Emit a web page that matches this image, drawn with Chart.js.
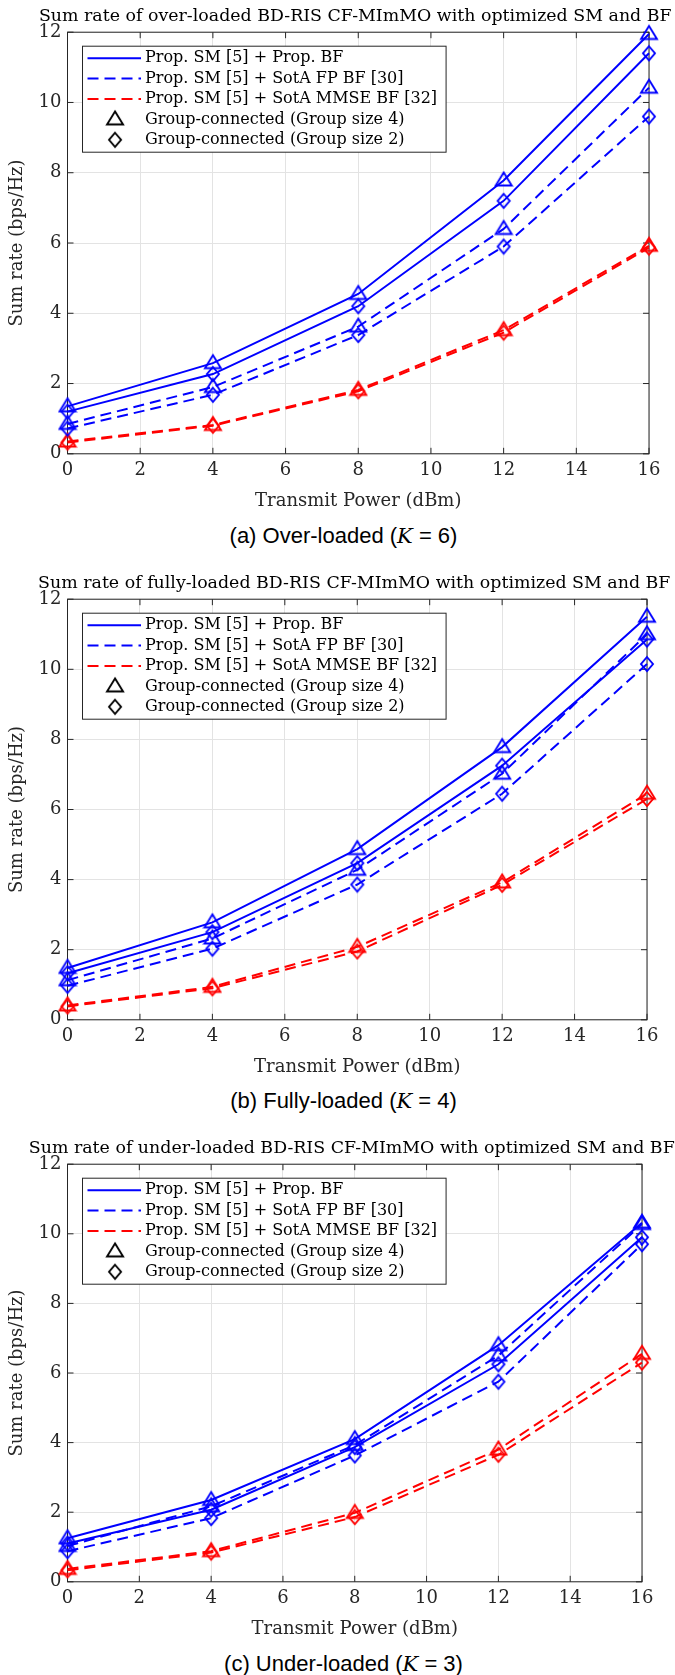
<!DOCTYPE html>
<html>
<head>
<meta charset="utf-8">
<script src="https://cdn.jsdelivr.net/npm/chart.js@4.4.1/dist/chart.umd.min.js"></script>
<style>
  body { margin: 0; width: 675px; height: 1675px; position: relative; background: #fff; overflow: hidden; }
  .panel { position: absolute; left: 0; width: 675px; }
  .caption { position: absolute; left: 0; width: 675px; box-sizing: border-box; padding-left: 12px;
    text-align: center; font-family: "Liberation Sans", Arial, sans-serif; font-size: 22px; line-height: 22px; color: #000; }
  .caption i { font-family: "DejaVu Serif", serif; font-size: 21px; }
</style>
</head>
<body>
<div class="panel" style="top:0px; height:514px"><canvas id="over"></canvas></div>
<div class="caption" style="top:525px">(a) Over-loaded (<i>K</i> = 6)</div>
<div class="panel" style="top:567px; height:513px"><canvas id="full"></canvas></div>
<div class="caption" style="top:1090px">(b) Fully-loaded (<i>K</i> = 4)</div>
<div class="panel" style="top:1132px; height:510px"><canvas id="under"></canvas></div>
<div class="caption" style="top:1653px">(c) Under-loaded (<i>K</i> = 3)</div>
<script>
// transmit power points (dBm)
var power = [0, 4, 8, 12, 16];

var seriesLabels = ["Prop. SM [5] + Prop. BF", "Prop. SM [5] + SotA FP BF [30]", "Prop. SM [5] + SotA MMSE BF [32]"];
var markerLabels = ["Group-connected (Group size 4)", "Group-connected (Group size 2)"];

// over-loaded, K = 6
var overPropG4 = [1.35, 2.58, 4.55, 7.78, 11.95];
var overPropG2 = [1.2, 2.27, 4.2, 7.2, 11.4];
var overFpG4 = [0.85, 1.9, 3.62, 6.4, 10.42];
var overFpG2 = [0.72, 1.68, 3.38, 5.9, 9.6];
var overMmseG4 = [0.35, 0.82, 1.82, 3.52, 5.92];
var overMmseG2 = [0.32, 0.8, 1.78, 3.45, 5.87];

// fully-loaded, K = 4
var fullPropG4 = [1.48, 2.78, 4.87, 7.78, 11.5];
var fullPropG2 = [1.33, 2.5, 4.47, 7.25, 10.85];
var fullFpG4 = [1.13, 2.32, 4.28, 7.02, 11.0];
var fullFpG2 = [0.97, 2.03, 3.86, 6.45, 10.15];
var fullMmseG4 = [0.41, 0.94, 2.08, 3.92, 6.45];
var fullMmseG2 = [0.38, 0.9, 1.95, 3.85, 6.3];

// under-loaded, K = 3
var underPropG4 = [1.25, 2.35, 4.1, 6.8, 10.32];
var underPropG2 = [1.1, 2.07, 3.87, 6.25, 9.9];
var underFpG4 = [1.03, 2.17, 3.93, 6.5, 10.28];
var underFpG2 = [0.88, 1.83, 3.63, 5.75, 9.7];
var underMmseG4 = [0.37, 0.88, 1.98, 3.8, 6.55];
var underMmseG2 = [0.33, 0.84, 1.86, 3.65, 6.3];

var axisColor = "#262626";
var titleFont = "17.4px 'DejaVu Serif'";
var legendFont = "16px 'DejaVu Serif'";
Chart.defaults.font.family = "'DejaVu Serif', serif";
Chart.defaults.color = axisColor;

// matlab style open markers drawn on small canvases
function makeMarker(shape, color) {
  var c = document.createElement("canvas");
  var ctx, w, h, cx, cy;
  if (shape == "tri") {
    w = 16; h = 13;
    c.width = w + 4; c.height = Math.round(h * 4 / 3) + 4;
    ctx = c.getContext("2d");
    cx = c.width / 2; cy = c.height / 2;
    ctx.beginPath();
    ctx.moveTo(cx, cy - h * 0.62);
    ctx.lineTo(cx + w / 2, cy + h * 0.38);
    ctx.lineTo(cx - w / 2, cy + h * 0.38);
    ctx.closePath();
  } else {
    w = 12; h = 14;
    c.width = w + 4; c.height = h + 4;
    ctx = c.getContext("2d");
    cx = c.width / 2; cy = c.height / 2;
    ctx.beginPath();
    ctx.moveTo(cx, cy - h / 2);
    ctx.lineTo(cx + w / 2, cy);
    ctx.lineTo(cx, cy + h / 2);
    ctx.lineTo(cx - w / 2, cy);
    ctx.closePath();
  }
  ctx.strokeStyle = color;
  ctx.lineWidth = 1.9;
  ctx.lineJoin = "miter";
  ctx.stroke();
  return c;
}

var blueTri = makeMarker("tri", "#0000ff"), blueDia = makeMarker("dia", "#0000ff");
var redTri = makeMarker("tri", "#ff0000"), redDia = makeMarker("dia", "#ff0000");
var blackTri = makeMarker("tri", "#000"), blackDia = makeMarker("dia", "#000");

var lineColors = ["#0000ff", "#0000ff", "#0000ff", "#0000ff", "#ff0000", "#ff0000"];
var lineDashes = [[], [], [11, 6], [11, 6], [11, 6], [11, 6]];
var pointImgs = [blueTri, blueDia, blueTri, blueDia, redTri, redDia];

// title centred over the axes (may run past the plot width like the matlab one)
var plotTitle = {
  id: "plotTitle",
  afterDraw: function(chart, args, opts) {
    var ctx = chart.ctx, a = chart.chartArea;
    ctx.save();
    ctx.font = titleFont;
    ctx.fillStyle = "#000";
    ctx.textAlign = "center";
    ctx.textBaseline = "alphabetic";
    ctx.fillText(opts.text, (a.left + a.right) / 2 - 3, a.top - 11.6);
    ctx.restore();
  }
};

// box around the axes with inward ticks
var axesBox = {
  id: "axesBox",
  beforeDatasetsDraw: function(chart) {
    var ctx = chart.ctx, a = chart.chartArea, xs = chart.scales.x, ys = chart.scales.y;
    ctx.save();
    ctx.strokeStyle = axisColor;
    ctx.lineWidth = 1;
    ctx.strokeRect(a.left, a.top, a.right - a.left, a.bottom - a.top);
    ctx.beginPath();
    xs.ticks.forEach(function(t) {
      var p = xs.getPixelForValue(t.value);
      ctx.moveTo(p, a.bottom); ctx.lineTo(p, a.bottom - 6);
      ctx.moveTo(p, a.top); ctx.lineTo(p, a.top + 6);
    });
    ys.ticks.forEach(function(t) {
      var p = ys.getPixelForValue(t.value);
      ctx.moveTo(a.left, p); ctx.lineTo(a.left + 6, p);
      ctx.moveTo(a.right, p); ctx.lineTo(a.right - 6, p);
    });
    ctx.stroke();
    ctx.restore();
  }
};

// legend box in the upper left corner of the axes
var boxLegend = {
  id: "boxLegend",
  afterDatasetsDraw: function(chart) {
    var ctx = chart.ctx, a = chart.chartArea, ds = chart.data.datasets;
    var x0 = a.left + 15, y0 = a.top + 14;
    ctx.save();
    ctx.font = legendFont;
    var labels = seriesLabels.concat(markerLabels);
    var tw = 0;
    labels.forEach(function(t) { tw = Math.max(tw, ctx.measureText(t).width); });
    var bw = 62.5 + tw + 9, bh = 106;
    ctx.fillStyle = "#fff";
    ctx.fillRect(x0, y0, bw, bh);
    ctx.strokeStyle = "#262626";
    ctx.lineWidth = 1;
    ctx.strokeRect(x0, y0, bw, bh);
    labels.forEach(function(t, i) {
      var y = y0 + 12 + i * 20.4;
      if (i < 3) {
        var d = ds[i * 2];
        ctx.beginPath();
        ctx.setLineDash(d.borderDash);
        ctx.strokeStyle = d.borderColor;
        ctx.lineWidth = d.borderWidth;
        ctx.moveTo(x0 + 5, y);
        ctx.lineTo(x0 + 58.5, y);
        ctx.stroke();
        ctx.setLineDash([]);
      } else {
        var img = i == 3 ? blackTri : blackDia;
        ctx.drawImage(img, x0 + 32.5 - img.width / 2, y - img.height / 2);
      }
      ctx.fillStyle = "#000";
      ctx.textBaseline = "middle";
      ctx.fillText(t, x0 + 62.5, y);
    });
    ctx.restore();
  }
};

function makeChart(id, titleText, series, padRight) {
  var datasets = series.map(function(s, i) {
    return {
      data: power.map(function(p, j) { return {x: p, y: s[j]}; }),
      borderColor: lineColors[i],
      borderDash: lineDashes[i],
      borderWidth: 2,
      pointStyle: pointImgs[i],
      pointRadius: 7,
      fill: false,
      tension: 0,
      clip: false
    };
  });
  var tickFont = {size: 18};
  return new Chart(document.getElementById(id), {
    type: "line",
    data: {datasets: datasets},
    options: {
      animation: false,
      responsive: true,
      maintainAspectRatio: false,
      layout: {padding: {left: 5, right: padRight, top: 32.2, bottom: 0}},
      plugins: {
        legend: {display: false},
        tooltip: {enabled: false},
        title: {display: false},
        plotTitle: {text: titleText}
      },
      scales: {
        x: {
          type: "linear", min: 0, max: 16,
          ticks: {stepSize: 2, font: tickFont, padding: 6},
          grid: {color: "#e3e3e3", drawTicks: false},
          border: {display: false},
          title: {display: true, text: "Transmit Power (dBm)", font: {size: 18}, padding: {top: 3, bottom: 2}}
        },
        y: {
          min: 0, max: 12,
          ticks: {stepSize: 2, font: tickFont, padding: 6},
          grid: {color: "#e3e3e3", drawTicks: false},
          border: {display: false},
          title: {display: true, text: "Sum rate (bps/Hz)", font: {size: 18}, padding: {top: 2, bottom: 4}}
        }
      }
    },
    plugins: [axesBox, boxLegend, plotTitle]
  });
}

function drawAll() {
  makeChart("over", "Sum rate of over-loaded BD-RIS CF-MImMO with optimized SM and BF",
    [overPropG4, overPropG2, overFpG4, overFpG2, overMmseG4, overMmseG2], 26);
  makeChart("full", "Sum rate of fully-loaded BD-RIS CF-MImMO with optimized SM and BF",
    [fullPropG4, fullPropG2, fullFpG4, fullFpG2, fullMmseG4, fullMmseG2], 28);
  makeChart("under", "Sum rate of under-loaded BD-RIS CF-MImMO with optimized SM and BF",
    [underPropG4, underPropG2, underFpG4, underFpG2, underMmseG4, underMmseG2], 33);
}

// make sure the serif font is ready before the first canvas draws text
if (document.fonts && document.fonts.load) {
  Promise.all([document.fonts.load(titleFont), document.fonts.load(legendFont)])
    .then(drawAll, drawAll);
} else {
  drawAll();
}
</script>
</body>
</html>
